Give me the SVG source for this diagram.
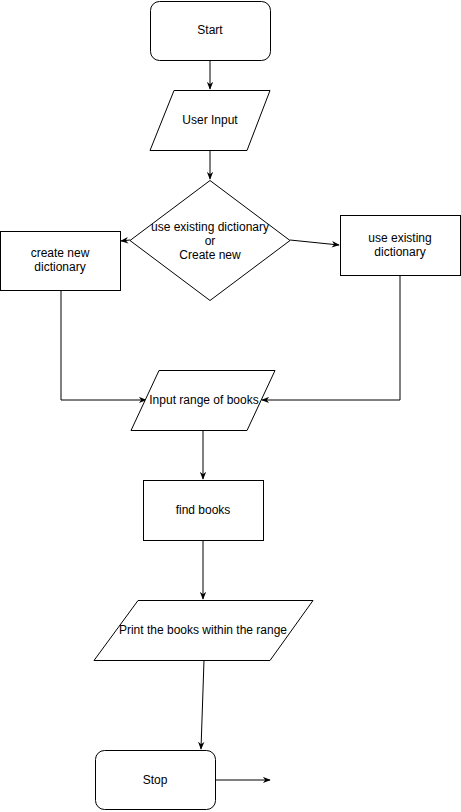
<svg xmlns="http://www.w3.org/2000/svg" width="461" height="812" viewBox="0 0 461 812">
<style>
.s{fill:#fff;stroke:#000;stroke-width:1}
.t{font-family:"Liberation Sans",Arial,sans-serif;font-size:12px;fill:#000;text-anchor:middle}
.c{fill:none;stroke:#000;stroke-width:1}
</style>
<defs>
<marker id="a" viewBox="0 0 10 8" refX="9" refY="4" markerWidth="8" markerHeight="7" markerUnits="userSpaceOnUse" orient="auto">
<path d="M0,0 L10,4 L0,8 L3,4 Z" fill="#000"/>
</marker>
</defs>
<rect width="461" height="812" fill="#fff"/>
<g id="connectors">
<path class="c" d="M210,60 L210,89" marker-end="url(#a)"/>
<path class="c" d="M210,150 L210,179" marker-end="url(#a)"/>
<path class="c" d="M130,240 L121,241" marker-end="url(#a)"/>
<path class="c" d="M290,240 L339,245" marker-end="url(#a)"/>
<path class="c" d="M61,290 L61,400 L146,400" marker-end="url(#a)"/>
<path class="c" d="M400,275 L400,400 L262,400" marker-end="url(#a)"/>
<path class="c" d="M203,430 L203,479" marker-end="url(#a)"/>
<path class="c" d="M203,540 L203,599" marker-end="url(#a)"/>
<path class="c" d="M204,660 L201,749" marker-end="url(#a)"/>
<path class="c" d="M216,780 L270,780" marker-end="url(#a)"/>
</g>
<g id="start">
<rect class="s" x="150.5" y="1.5" width="120" height="59" rx="9"/>
<text class="t" x="210" y="34">Start</text>
</g>
<g id="userInput">
<polygon class="s" points="174,90.5 270,90.5 247,150.5 150,150.5"/>
<text class="t" x="210" y="124">User Input</text>
</g>
<g id="decision">
<polygon class="s" points="210,180.5 290,240.5 210,300.5 130,240.5"/>
<text class="t" x="210" y="231">use existing dictionary</text>
<text class="t" x="210" y="245">or</text>
<text class="t" x="210" y="259">Create new</text>
</g>
<g id="createNew">
<rect class="s" x="0.5" y="231.5" width="120" height="59"/>
<text class="t" x="60" y="257">create new</text>
<text class="t" x="60" y="271">dictionary</text>
</g>
<g id="useExisting">
<rect class="s" x="340.5" y="215.5" width="120" height="60"/>
<text class="t" x="400" y="242">use existing</text>
<text class="t" x="400" y="256">dictionary</text>
</g>
<g id="inputRange">
<polygon class="s" points="159,370.5 275,370.5 247,430.5 131,430.5"/>
<text class="t" x="204" y="404">Input range of books</text>
</g>
<g id="findBooks">
<rect class="s" x="143.5" y="480.5" width="120" height="60"/>
<text class="t" x="203" y="514">find books</text>
</g>
<g id="print">
<polygon class="s" points="138,600.5 313,600.5 270,660.5 94,660.5"/>
<text class="t" x="203" y="634">Print the books within the range</text>
</g>
<g id="stop">
<rect class="s" x="95.5" y="750.5" width="120" height="59" rx="9"/>
<text class="t" x="155" y="784">Stop</text>
</g>
</svg>
